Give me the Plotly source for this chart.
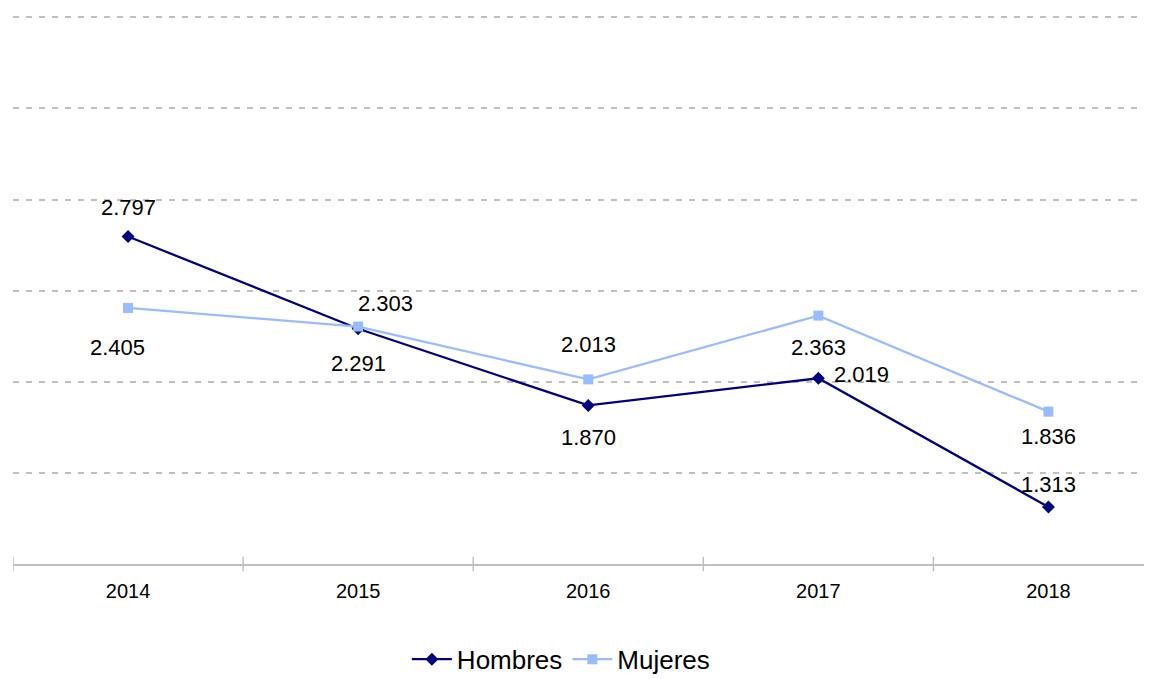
import plotly.graph_objects as go

years = ["2014", "2015", "2016", "2017", "2018"]
hombres = [2797, 2291, 1870, 2019, 1313]
mujeres = [2405, 2303, 2013, 2363, 1836]

# label offsets (px) for data labels: (xshift, yshift)
hombres_off = [(0, 29), (0, -35), (0, -32), (43, 4), (0, 22)]
mujeres_off = [(-11, -40), (27, 23), (0, 35), (0, -32), (0, -25)]

x_idx = list(range(len(years)))
FONT = "Liberation Sans, Arial, Helvetica, sans-serif"

fig = go.Figure()
fig.add_trace(go.Scatter(
    x=x_idx, y=hombres, name="Hombres", mode="lines+markers",
    line=dict(color="#000080", width=2.3),
    marker=dict(symbol="diamond", size=10, color="#000080"),
))
fig.add_trace(go.Scatter(
    x=x_idx, y=mujeres, name="Mujeres", mode="lines+markers",
    line=dict(color="#99BBFF", width=2.3),
    marker=dict(symbol="square", size=10, color="#99BBFF"),
))

annotations = []
for vals, offs in ((hombres, hombres_off), (mujeres, mujeres_off)):
    for i, v in enumerate(vals):
        annotations.append(dict(
            x=x_idx[i], y=v, xref="x", yref="y",
            text=f"{v:,}".replace(",", "."), showarrow=False,
            xshift=offs[i][0], yshift=offs[i][1],
            font=dict(family=FONT, size=22, color="#000000"),
        ))

shapes = []
for t in [-0.5, 0.5, 1.5, 2.5, 3.5]:
    shapes.append(dict(type="line", xref="x", yref="paper", x0=t, x1=t,
                       y0=-0.013, y1=0.013, line=dict(color="#C0C0C0", width=1.5)))

# the page body has an 8px margin, so the figure is sized to fit the window
fig.update_layout(
    width=1144, height=671,
    margin=dict(l=5, r=0, t=2, b=115, autoexpand=False),
    paper_bgcolor="white", plot_bgcolor="white",
    separators=",.",
    showlegend=True,
    legend=dict(orientation="h", x=0.481, xanchor="center", y=-0.172, yanchor="middle",
                font=dict(family=FONT, size=26, color="#000000"),
                itemwidth=40, tracegroupgap=0),
    annotations=annotations,
    shapes=shapes,
    xaxis=dict(
        range=[-0.5, 4.45], tickmode="array", tickvals=x_idx, ticktext=years,
        showgrid=False, zeroline=False, showline=True, linecolor="#C0C0C0", linewidth=2,
        ticks="", ticklabelstandoff=8, tickfont=dict(family=FONT, size=20, color="#000000"),
    ),
    yaxis=dict(
        range=[1000, 4040], tickmode="array", tickvals=[1500, 2000, 2500, 3000, 3500, 4000],
        showticklabels=False, ticks="",
        showgrid=True, gridcolor="#BFBFBF", gridwidth=1.5, griddash="6px,7px",
        zeroline=False, showline=False,
    ),
)

fig.write_html("out.html")
